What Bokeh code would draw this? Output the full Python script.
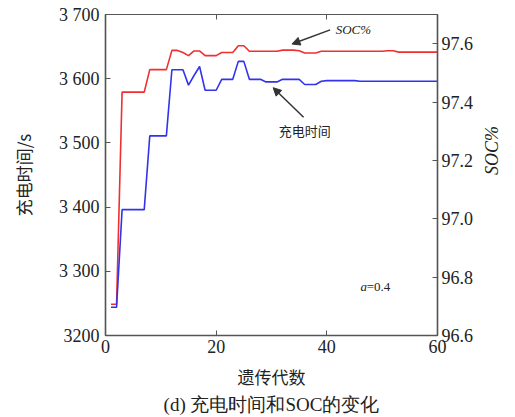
import math
from bokeh.plotting import figure
from bokeh.models import Range1d, LinearAxis, FixedTicker, Label, Arrow, NormalHead, Title
from bokeh.embed import file_html
from bokeh.resources import INLINE

# ---------------- data ----------------
generations = list(range(1, 61))
charge_time = [3244, 3244, 3396, 3396, 3396, 3396, 3396, 3511, 3511, 3511,
               3511, 3614, 3614, 3614, 3590, 3605, 3619, 3582, 3582, 3582,
               3599, 3599, 3599, 3627, 3627, 3599, 3599, 3599, 3595, 3595,
               3595, 3599, 3599, 3599, 3599, 3591, 3591, 3591, 3596, 3597,
               3597, 3597, 3597, 3597, 3597, 3596, 3596, 3596, 3596, 3596,
               3596, 3596, 3596, 3596, 3596, 3596, 3596, 3596, 3596, 3596]
soc = [96.707, 96.707, 97.434, 97.434, 97.434, 97.434, 97.434, 97.511, 97.511, 97.511,
       97.511, 97.577, 97.577, 97.570, 97.559, 97.575, 97.575, 97.559, 97.559, 97.559,
       97.570, 97.570, 97.570, 97.593, 97.593, 97.574, 97.574, 97.574, 97.574, 97.574,
       97.574, 97.578, 97.578, 97.578, 97.576, 97.568, 97.568, 97.568, 97.574, 97.574,
       97.574, 97.574, 97.574, 97.574, 97.574, 97.574, 97.574, 97.574, 97.574, 97.574,
       97.576, 97.576, 97.571, 97.571, 97.571, 97.571, 97.571, 97.571, 97.571, 97.571]

x_ticks = [0, 20, 40, 60]
left_ticks = [3200, 3300, 3400, 3500, 3600, 3700]
left_tick_labels = ["3200", "3 300", "3 400", "3 500", "3 600", "3 700"]
right_ticks = [96.6, 96.8, 97.0, 97.2, 97.4, 97.6]
right_tick_labels = ["96.6", "96.8", "97.0", "97.2", "97.4", "97.6"]

SERIF = "Liberation Serif"
CJK = "Noto Sans CJK SC"
TXT = "#222222"
AX = "#555555"

p = figure(width=515, height=417, output_backend="svg", toolbar_location=None,
           x_range=Range1d(0, 60), y_range=Range1d(3200, 3700),
           min_border_left=105, min_border_right=78, min_border_top=14,
           min_border_bottom=82)
p.extra_y_ranges = {"soc": Range1d(96.6, 97.7)}
p.xgrid.visible = False
p.ygrid.visible = False
p.outline_line_color = "#666666"
p.outline_line_width = 1.2
p.background_fill_color = "white"
p.border_fill_color = "white"

def style_axis(ax):
    ax.axis_line_color = AX
    ax.axis_line_width = 1.5
    ax.major_tick_line_color = AX
    ax.major_tick_in = 5
    ax.major_tick_out = 0
    ax.minor_tick_line_color = None
    ax.major_label_text_font = SERIF
    ax.major_label_text_font_size = "18px"
    ax.major_label_text_color = TXT

# bottom x axis
xa = p.xaxis[0]
style_axis(xa)
xa.ticker = FixedTicker(ticks=x_ticks)
xa.major_label_standoff = 4
xa.axis_label = "遗传代数"
xa.axis_label_text_font = CJK
xa.axis_label_text_font_style = "normal"
xa.axis_label_text_font_size = "17px"
xa.axis_label_text_color = TXT
xa.axis_label_standoff = 8

# left y axis
ya = p.yaxis[0]
style_axis(ya)
ya.ticker = FixedTicker(ticks=left_ticks)
ya.major_label_overrides = {t: s for t, s in zip(left_ticks, left_tick_labels)}
ya.major_label_standoff = 6
ya.axis_label = "充电时间/s"
ya.axis_label_text_font = CJK
ya.axis_label_text_font_style = "normal"
ya.axis_label_text_font_size = "17px"
ya.axis_label_text_color = TXT
ya.axis_label_standoff = 20

# right y axis (SOC)
ra = LinearAxis(y_range_name="soc", ticker=FixedTicker(ticks=right_ticks))
style_axis(ra)
ra.major_label_overrides = {t: s for t, s in zip(right_ticks, right_tick_labels)}
ra.major_label_standoff = 4
ra.axis_label = "SOC%"
ra.axis_label_text_font = SERIF
ra.axis_label_text_font_style = "italic"
ra.axis_label_text_font_size = "18px"
ra.axis_label_text_color = TXT
ra.axis_label_standoff = 16
ra.axis_label_orientation = math.pi / 2
p.add_layout(ra, "right")

# top axis: tick marks only (as minor ticks, no labels)
ta = LinearAxis(ticker=FixedTicker(ticks=[], minor_ticks=x_ticks))
ta.axis_line_color = AX
ta.axis_line_width = 1.2
ta.major_tick_line_color = None
ta.minor_tick_line_color = AX
ta.minor_tick_in = 5
ta.minor_tick_out = 0
ta.major_label_standoff = 0
p.add_layout(ta, "above")

# series
p.line(generations, soc, y_range_name="soc", line_color="#ee3030", line_width=1.6)
p.line(generations, charge_time, line_color="#3333ee", line_width=1.6)

# annotations
head = dict(size=8, fill_color="#333333", line_color="#333333")
p.add_layout(Arrow(end=NormalHead(**head), x_start=40.6, y_start=3676, x_end=33.7, y_end=3654,
                   line_color="#333333", line_width=1.5))
p.add_layout(Arrow(end=NormalHead(**head), x_start=35.8, y_start=3540, x_end=30.3, y_end=3586,
                   line_color="#333333", line_width=1.5))

p.add_layout(Label(x=41.6, y=3677, text="SOC%", text_font=SERIF, text_font_style="italic",
                   text_font_size="13px", text_color=TXT, text_baseline="middle"))
p.add_layout(Label(x=31.3, y=3519, text="充电时间", text_font=CJK,
                   text_font_size="13px", text_color=TXT, text_baseline="middle"))
p.add_layout(Label(x=46.1, y=3276, text="a", text_font=SERIF, text_font_style="italic",
                   text_font_size="13px", text_color=TXT, text_baseline="middle"))
p.add_layout(Label(x=47.2, y=3276, text="=0.4", text_font=SERIF,
                   text_font_size="13px", text_color=TXT, text_baseline="middle"))

# caption below the x-axis title
cap = Title(text="(d) 充电时间和SOC的变化", align="center", text_font=SERIF,
            text_font_size="19px", text_font_style="normal", text_color=TXT,
            standoff=1)
p.add_layout(cap, "below")

open("out.html", "w").write(file_html(p, INLINE))
